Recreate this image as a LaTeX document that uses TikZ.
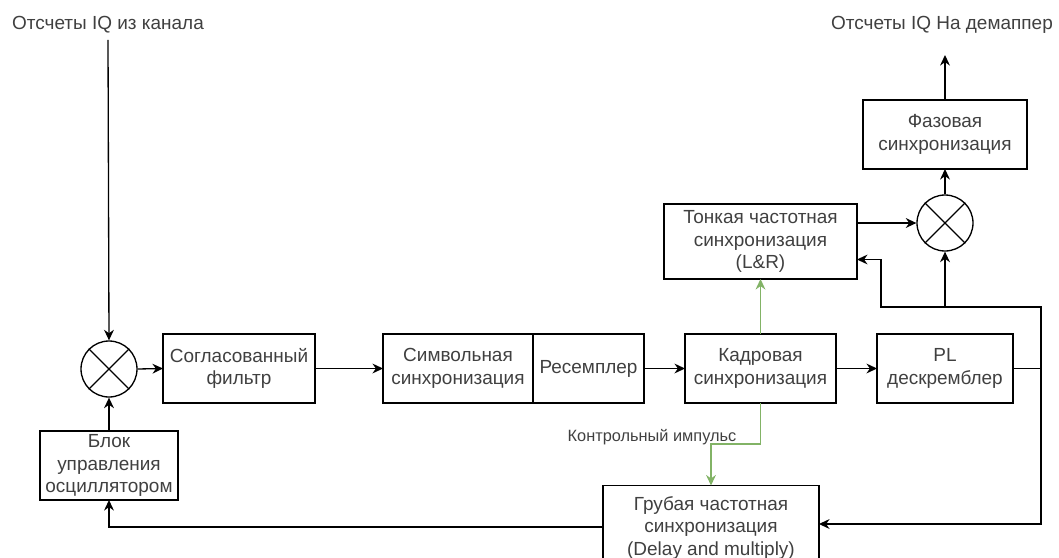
\documentclass[tikz,border=0pt]{standalone}
\usepackage{fontspec}
\setmainfont{Liberation Sans}
\usetikzlibrary{arrows.meta}
\definecolor{ctrlgreen}{HTML}{82B366}

\begin{document}
\begin{tikzpicture}[x=0.02cm,y=-0.02cm,line width=0.75pt,
   every node/.style={font=\fontsize{10.8}{13}\selectfont,text=black!75},
   blk/.style={draw,align=center,inner sep=0pt,outer sep=0pt,minimum height=1.38cm},
   mixer/.style={draw,circle,inner sep=0pt,minimum size=1.12cm},
   arr/.style={-{Stealth[length=6pt,width=5.6pt]}}]

   \useasboundingbox (0,0) rectangle (1059,558);

   % input and output labels
   \node (inlbl) at (108,25) {Отсчеты IQ из канала};
   \node (outlbl) at (942,25) {Отсчеты IQ На демаппер};
   \coordinate (outtip) at (945,55);

   % mixers
   \node[mixer] (mixA) at (109,369) {};
   \node[mixer] (mixB) at (945,223) {};
   \draw (mixA.north west) -- (mixA.south east) (mixA.north east) -- (mixA.south west);
   \draw (mixB.north west) -- (mixB.south east) (mixB.north east) -- (mixB.south west);

   % main chain
   \node[blk,minimum width=3.04cm] (filt) at (239,368.5) {Согласованный\\фильтр};
   \node[blk,minimum width=3.0cm] (symb) at (458,368.5) {Символьная\\синхронизация};
   \node[blk,minimum width=2.22cm,anchor=west] (resmp) at (symb.east) {Ресемплер};
   \node[blk,minimum width=3.02cm] (frame) at (760.5,368.5) {Кадровая\\синхронизация};
   \node[blk,minimum width=2.72cm] (descr) at (945,368.5) {PL\\дескремблер};
   \node[blk,minimum width=2.76cm] (osc) at (109,465.5) {Блок\\управления\\осциллятором};
   \node[blk,minimum width=3.86cm,minimum height=1.5cm] (fine) at (760.5,241.5)
      {Тонкая частотная\\синхронизация\\(L\&R)};
   \node[blk,minimum width=3.28cm] (phase) at (945,134.5) {Фазовая\\синхронизация};
   \node[blk,minimum width=4.32cm,minimum height=1.7cm] (coarse) at (711,528)
      {Грубая частотная\\синхронизация\\(Delay and multiply)};

   \coordinate (tapR) at (1041,307);
   \coordinate (tapL) at (881,307);

   \draw[arr] (inlbl.south) -- (mixA.north);
   \draw[arr] (osc.north) -- (mixA.south);
   \draw[arr] (mixA.east) -- (filt.west);
   \draw[arr] (filt.east) -- (symb.west);
   \draw[arr] (resmp.east) -- (frame.west);
   \draw[arr] (frame.east) -- (descr.west);

   % feedback from the descrambler
   \draw[arr] (descr.east) -| (tapR) -- (tapL) |- ([yshift=-0.36cm]fine.east);
   \draw[arr] (descr.east -| tapR) |- (coarse.east |- 0,524);
   \draw[arr] (mixB.south |- tapR) -- (mixB.south);
   \draw[arr] (coarse.west |- 0,527) -| (osc.south);

   \draw[arr] (fine.east |- mixB) -- (mixB.west);
   \draw[arr] (mixB.north) -- (phase.south);
   \draw[arr] (phase.north) -- (outtip);

   % control pulse
   \draw[arr,ctrlgreen] (frame.north) -- (fine.south);
   \draw[arr,ctrlgreen] (frame.south) -- (760.5,444) -| (coarse.north -| 711,0);
   \node[font=\fontsize{9.3}{11}\selectfont,inner sep=1pt] (pulse) at (652,437) {Контрольный импульс};
\end{tikzpicture}
\end{document}
